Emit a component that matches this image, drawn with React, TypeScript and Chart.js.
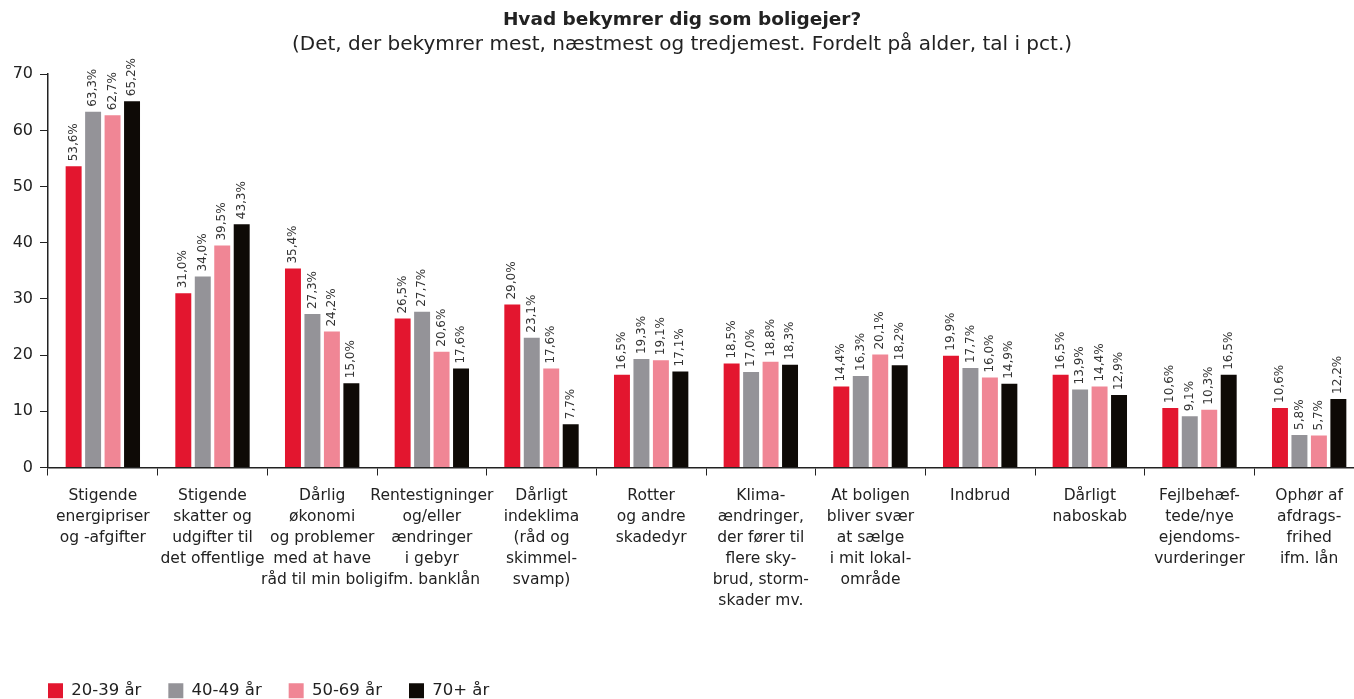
import React, { useEffect, useRef } from 'react';
import { Chart, registerables } from 'chart.js';

Chart.register(...registerables);

const chartTitle = 'Hvad bekymrer dig som boligejer?';
const chartSubtitle = '(Det, der bekymrer mest, næstmest og tredjemest. Fordelt på alder, tal i pct.)';

const categories: string[][] = [
  ['Stigende', 'energipriser', 'og -afgifter'],
  ['Stigende', 'skatter og', 'udgifter til', 'det offentlige'],
  ['Dårlig', 'økonomi', 'og problemer', 'med at have', 'råd til min bolig'],
  ['Rentestigninger', 'og/eller', 'ændringer', 'i gebyr', 'ifm. banklån'],
  ['Dårligt', 'indeklima', '(råd og', 'skimmel-', 'svamp)'],
  ['Rotter', 'og andre', 'skadedyr'],
  ['Klima-', 'ændringer,', 'der fører til', 'flere sky-', 'brud, storm-', 'skader mv.'],
  ['At boligen', 'bliver svær', 'at sælge', 'i mit lokal-', 'område'],
  ['Indbrud'],
  ['Dårligt', 'naboskab'],
  ['Fejlbehæf-', 'tede/nye', 'ejendoms-', 'vurderinger'],
  ['Ophør af', 'afdrags-', 'frihed', 'ifm. lån'],
];

const seriesNames = ['20-39 år', '40-49 år', '50-69 år', '70+ år'];

const values2039 = [53.6, 31.0, 35.4, 26.5, 29.0, 16.5, 18.5, 14.4, 19.9, 16.5, 10.6, 10.6];
const values4049 = [63.3, 34.0, 27.3, 27.7, 23.1, 19.3, 17.0, 16.3, 17.7, 13.9, 9.1, 5.8];
const values5069 = [62.7, 39.5, 24.2, 20.6, 17.6, 19.1, 18.8, 20.1, 16.0, 14.4, 10.3, 5.7];
const values70plus = [65.2, 43.3, 15.0, 17.6, 7.7, 17.1, 18.3, 18.2, 14.9, 12.9, 16.5, 12.2];

const seriesColors = ['#E3162F', '#949398', '#F08695', '#0E0A06'];

const yMin = 0;
const yMax = 70;
const yStep = 10;

const FONT = "'DejaVu Sans', sans-serif";
const TEXT = '#222222';

const valueLabelPlugin = {
  id: 'valueLabels',
  afterDatasetsDraw(chart: any) {
    const ctx = chart.ctx;
    ctx.save();
    ctx.font = `12px ${FONT}`;
    ctx.fillStyle = '#333333';
    ctx.textAlign = 'left';
    ctx.textBaseline = 'middle';
    chart.data.datasets.forEach((ds: any, di: number) => {
      const meta = chart.getDatasetMeta(di);
      meta.data.forEach((el: any, i: number) => {
        const v = ds.data[i] as number;
        const txt = v.toFixed(1).replace('.', ',') + '%';
        ctx.save();
        ctx.translate(el.x, el.y - 5);
        ctx.rotate(-Math.PI / 2);
        ctx.fillText(txt, 0, 0);
        ctx.restore();
      });
    });
    ctx.restore();
  },
};

// Align the legend's first box with the y axis line
const legendIndentPlugin = {
  id: 'legendIndent',
  afterLayout(chart: any) {
    const lg = chart.legend;
    if (!lg) return;
    const shift = chart.chartArea.left - lg.left - lg.options.labels.padding;
    lg.left += shift;
    lg.right += shift;
  },
};

export default function App() {
  const canvasRef = useRef<HTMLCanvasElement | null>(null);

  useEffect(() => {
    if (!canvasRef.current) return;
    const seriesValues = [values2039, values4049, values5069, values70plus];
    const chart = new Chart(canvasRef.current, {
      type: 'bar',
      data: {
        labels: categories,
        datasets: seriesNames.map((name, i) => ({
          label: name,
          data: seriesValues[i],
          backgroundColor: seriesColors[i],
          borderWidth: 0,
          categoryPercentage: 0.71,
          barPercentage: 0.82,
        })),
      },
      options: {
        responsive: true,
        maintainAspectRatio: false,
        animation: false,
        layout: { padding: { left: 0, right: 0, top: 0, bottom: 0 } },
        plugins: {
          title: {
            display: true,
            text: chartTitle,
            color: TEXT,
            font: { family: FONT, size: 18.5, weight: 'bold', lineHeight: 1.2 },
            padding: { top: 9, bottom: 2 },
          },
          subtitle: {
            display: true,
            text: chartSubtitle,
            color: TEXT,
            font: { family: FONT, size: 20, weight: 'normal', lineHeight: 1.2 },
            padding: { top: 0, bottom: 17 },
          },
          legend: {
            display: true,
            position: 'bottom',
            align: 'start',
            labels: {
              boxWidth: 15,
              boxHeight: 15,
              padding: 27,
              color: TEXT,
              font: { family: FONT, size: 16.5 },
            },
          },
          tooltip: { enabled: false },
        },
        scales: {
          x: {
            grid: {
              offset: true,
              drawOnChartArea: false,
              drawTicks: true,
              tickLength: 8,
              color: TEXT,
            },
            border: { display: true, color: TEXT, width: 1.5 },
            ticks: {
              color: TEXT,
              font: { family: FONT, size: 15.5, lineHeight: 1.35 },
              padding: 10,
              maxRotation: 0,
              autoSkip: false,
            },
            afterFit: (scale: any) => {
              scale.height = 188;
            },
          },
          y: {
            min: yMin,
            max: yMax,
            ticks: {
              stepSize: yStep,
              color: TEXT,
              font: { family: FONT, size: 16 },
              padding: 7,
            },
            grid: {
              drawOnChartArea: false,
              drawTicks: true,
              tickLength: 8,
              color: TEXT,
            },
            border: { display: true, color: TEXT, width: 1.5 },
            afterFit: (scale: any) => {
              scale.width = 48;
            },
          },
        },
      },
      plugins: [valueLabelPlugin, legendIndentPlugin],
    });
    return () => chart.destroy();
  }, []);

  return (
    <div style={{ position: 'absolute', left: 0, top: 0, width: 1354, height: 699, overflow: 'hidden', background: '#fff' }}>
      <div style={{ position: 'relative', width: 1364, height: 709 }}>
        <canvas ref={canvasRef} style={{ display: 'block' }} />
      </div>
    </div>
  );
}
